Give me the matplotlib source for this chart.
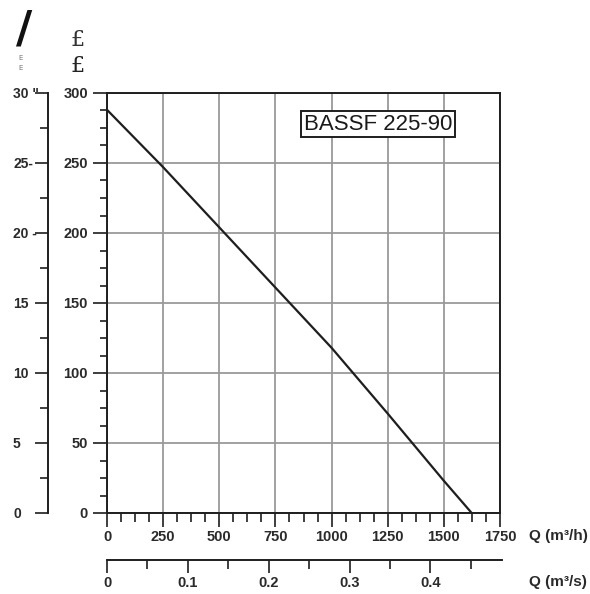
import matplotlib
matplotlib.use("Agg")
import matplotlib.pyplot as plt
from matplotlib.ticker import MultipleLocator, FixedLocator

# Pump characteristic BASSF 225-90
flow_m3h = [0, 250, 500, 750, 1000, 1250, 1500, 1624]
head_m = [288, 247, 204, 161, 118, 71, 23, 0]

x_ticks = [0, 250, 500, 750, 1000, 1250, 1500, 1750]
y_ticks = [0, 50, 100, 150, 200, 250, 300]
q_s_ticks = [0, 0.1, 0.2, 0.3, 0.4]
q_s_labels = ["0", "0.1", "0.2", "0.3", "0.4"]
p_ticks = [0, 5, 10, 15, 20, 25, 30]
p_labels = ["0", "5", "10", "15", "20 -", "25-", '30 "']
model_name = "BASSF 225-90"

W, H = 590, 594
FONT = "Liberation Sans"
INK = "#1e1e1e"
GRID = "#9a9a9a"


def px(v):
    # pixel size -> points at 100 dpi
    return v * 0.72


fig = plt.figure(figsize=(W / 100, H / 100), dpi=100)
fig.patch.set_facecolor("white")

# main head/flow axes
L, R, T, B = 107, 500, 93, 513
ax = fig.add_axes([L / W, (H - B) / H, (R - L) / W, (B - T) / H])
ax.set_xlim(0, 1750)
ax.set_ylim(0, 300)
ax.plot(flow_m3h, head_m, color=INK, lw=1.6, solid_capstyle="butt", zorder=3)

ax.xaxis.set_major_locator(FixedLocator(x_ticks))
ax.xaxis.set_minor_locator(MultipleLocator(62.5))
ax.yaxis.set_major_locator(FixedLocator(y_ticks))
ax.yaxis.set_minor_locator(MultipleLocator(12.5))
ax.grid(True, which="major", color=GRID, lw=1.3, zorder=1)
for s in ax.spines.values():
    s.set_color(INK)
    s.set_linewidth(1.4)
ax.tick_params(axis="x", which="major", direction="out", length=px(14), width=1.2,
               pad=px(3), colors=INK)
ax.tick_params(axis="x", which="minor", direction="out", length=px(9), width=1.2, colors=INK)
ax.tick_params(axis="y", which="major", direction="out", length=px(14), width=1.2,
               pad=px(5), colors=INK)
ax.tick_params(axis="y", which="minor", direction="out", length=px(7), width=1.2, colors=INK)
ax.set_xticklabels([str(v) for v in x_ticks])
ax.set_yticklabels([str(v) for v in y_ticks])
for t in ax.get_xticklabels() + ax.get_yticklabels():
    t.set_fontfamily(FONT)
    t.set_fontsize(10.5)
    t.set_fontweight("bold")
    t.set_color("#2a2a2a")

ax.text((378 - L) / (R - L), (B - 124) / (B - T), model_name, transform=ax.transAxes,
        ha="center", va="center", fontsize=16, family=FONT, color="#1a1a1a",
        bbox=dict(boxstyle="square,pad=0.12", fc="white", ec=INK, lw=1.4), zorder=4)

fig.text(529 / W, 1 - 536 / H, "Q (m\u00b3/h)", ha="left", va="center",
         fontsize=11, family=FONT, fontweight="bold", color="#2a2a2a")

# flow in m3/s
YS = 560
axs = fig.add_axes([L / W, (H - YS) / H, (502 - L) / W, 0.0001])
axs.set_xlim(0, 1750 / 3600 * (502 - L) / (R - L))
axs.set_ylim(0, 1)
for k in ("top", "left", "right"):
    axs.spines[k].set_visible(False)
axs.spines["bottom"].set_color(INK)
axs.spines["bottom"].set_linewidth(1.4)
axs.set_yticks([])
axs.xaxis.set_major_locator(FixedLocator(q_s_ticks))
axs.xaxis.set_minor_locator(MultipleLocator(0.05))
axs.set_xticklabels(q_s_labels)
axs.tick_params(axis="x", which="major", direction="out", length=px(13), width=1.2,
                pad=px(3), colors=INK)
axs.tick_params(axis="x", which="minor", direction="out", length=px(9), width=1.2, colors=INK)
for t in axs.get_xticklabels():
    t.set_fontfamily(FONT)
    t.set_fontsize(10.5)
    t.set_fontweight("bold")
    t.set_color("#2a2a2a")
axs.patch.set_visible(False)
fig.text(529 / W, 1 - 582 / H, "Q (m\u00b3/s)", ha="left", va="center",
         fontsize=11, family=FONT, fontweight="bold", color="#2a2a2a")

# power scale on the left
XP = 48
axp = fig.add_axes([XP / W, (H - B) / H, 0.0001, (B - T) / H])
axp.set_ylim(0, 30)
axp.set_xlim(0, 1)
for k in ("top", "bottom", "right"):
    axp.spines[k].set_visible(False)
axp.spines["left"].set_color(INK)
axp.spines["left"].set_linewidth(1.4)
axp.set_xticks([])
axp.yaxis.set_major_locator(FixedLocator(p_ticks))
axp.yaxis.set_minor_locator(MultipleLocator(2.5))
axp.set_yticklabels(p_labels)
axp.tick_params(axis="y", which="major", direction="out", length=px(13), width=1.2,
                pad=px(22), colors=INK)
axp.tick_params(axis="y", which="minor", direction="out", length=px(8), width=1.2, colors=INK)
for t in axp.get_yticklabels():
    t.set_fontfamily(FONT)
    t.set_fontsize(10)
    t.set_fontweight("bold")
    t.set_color("#2a2a2a")
    t.set_horizontalalignment("left")
axp.patch.set_visible(False)

# axis symbols at the top
fig.text(24 / W, 1 - 30 / H, "/", ha="center", va="center", fontsize=32,
         fontweight="bold", family="DejaVu Sans", color="#111111")
fig.text(21 / W, 1 - 58 / H, "E", ha="center", va="center", fontsize=5, color="#777777")
fig.text(21 / W, 1 - 68 / H, "E", ha="center", va="center", fontsize=5, color="#777777")
fig.text(78 / W, 1 - 40 / H, "\u00a3", ha="center", va="center", fontsize=16,
         family="DejaVu Serif", color="#333333")
fig.text(78 / W, 1 - 66 / H, "\u00a3", ha="center", va="center", fontsize=16,
         family="DejaVu Serif", color="#222222")

fig.savefig("out.png", dpi=100, facecolor="white")
